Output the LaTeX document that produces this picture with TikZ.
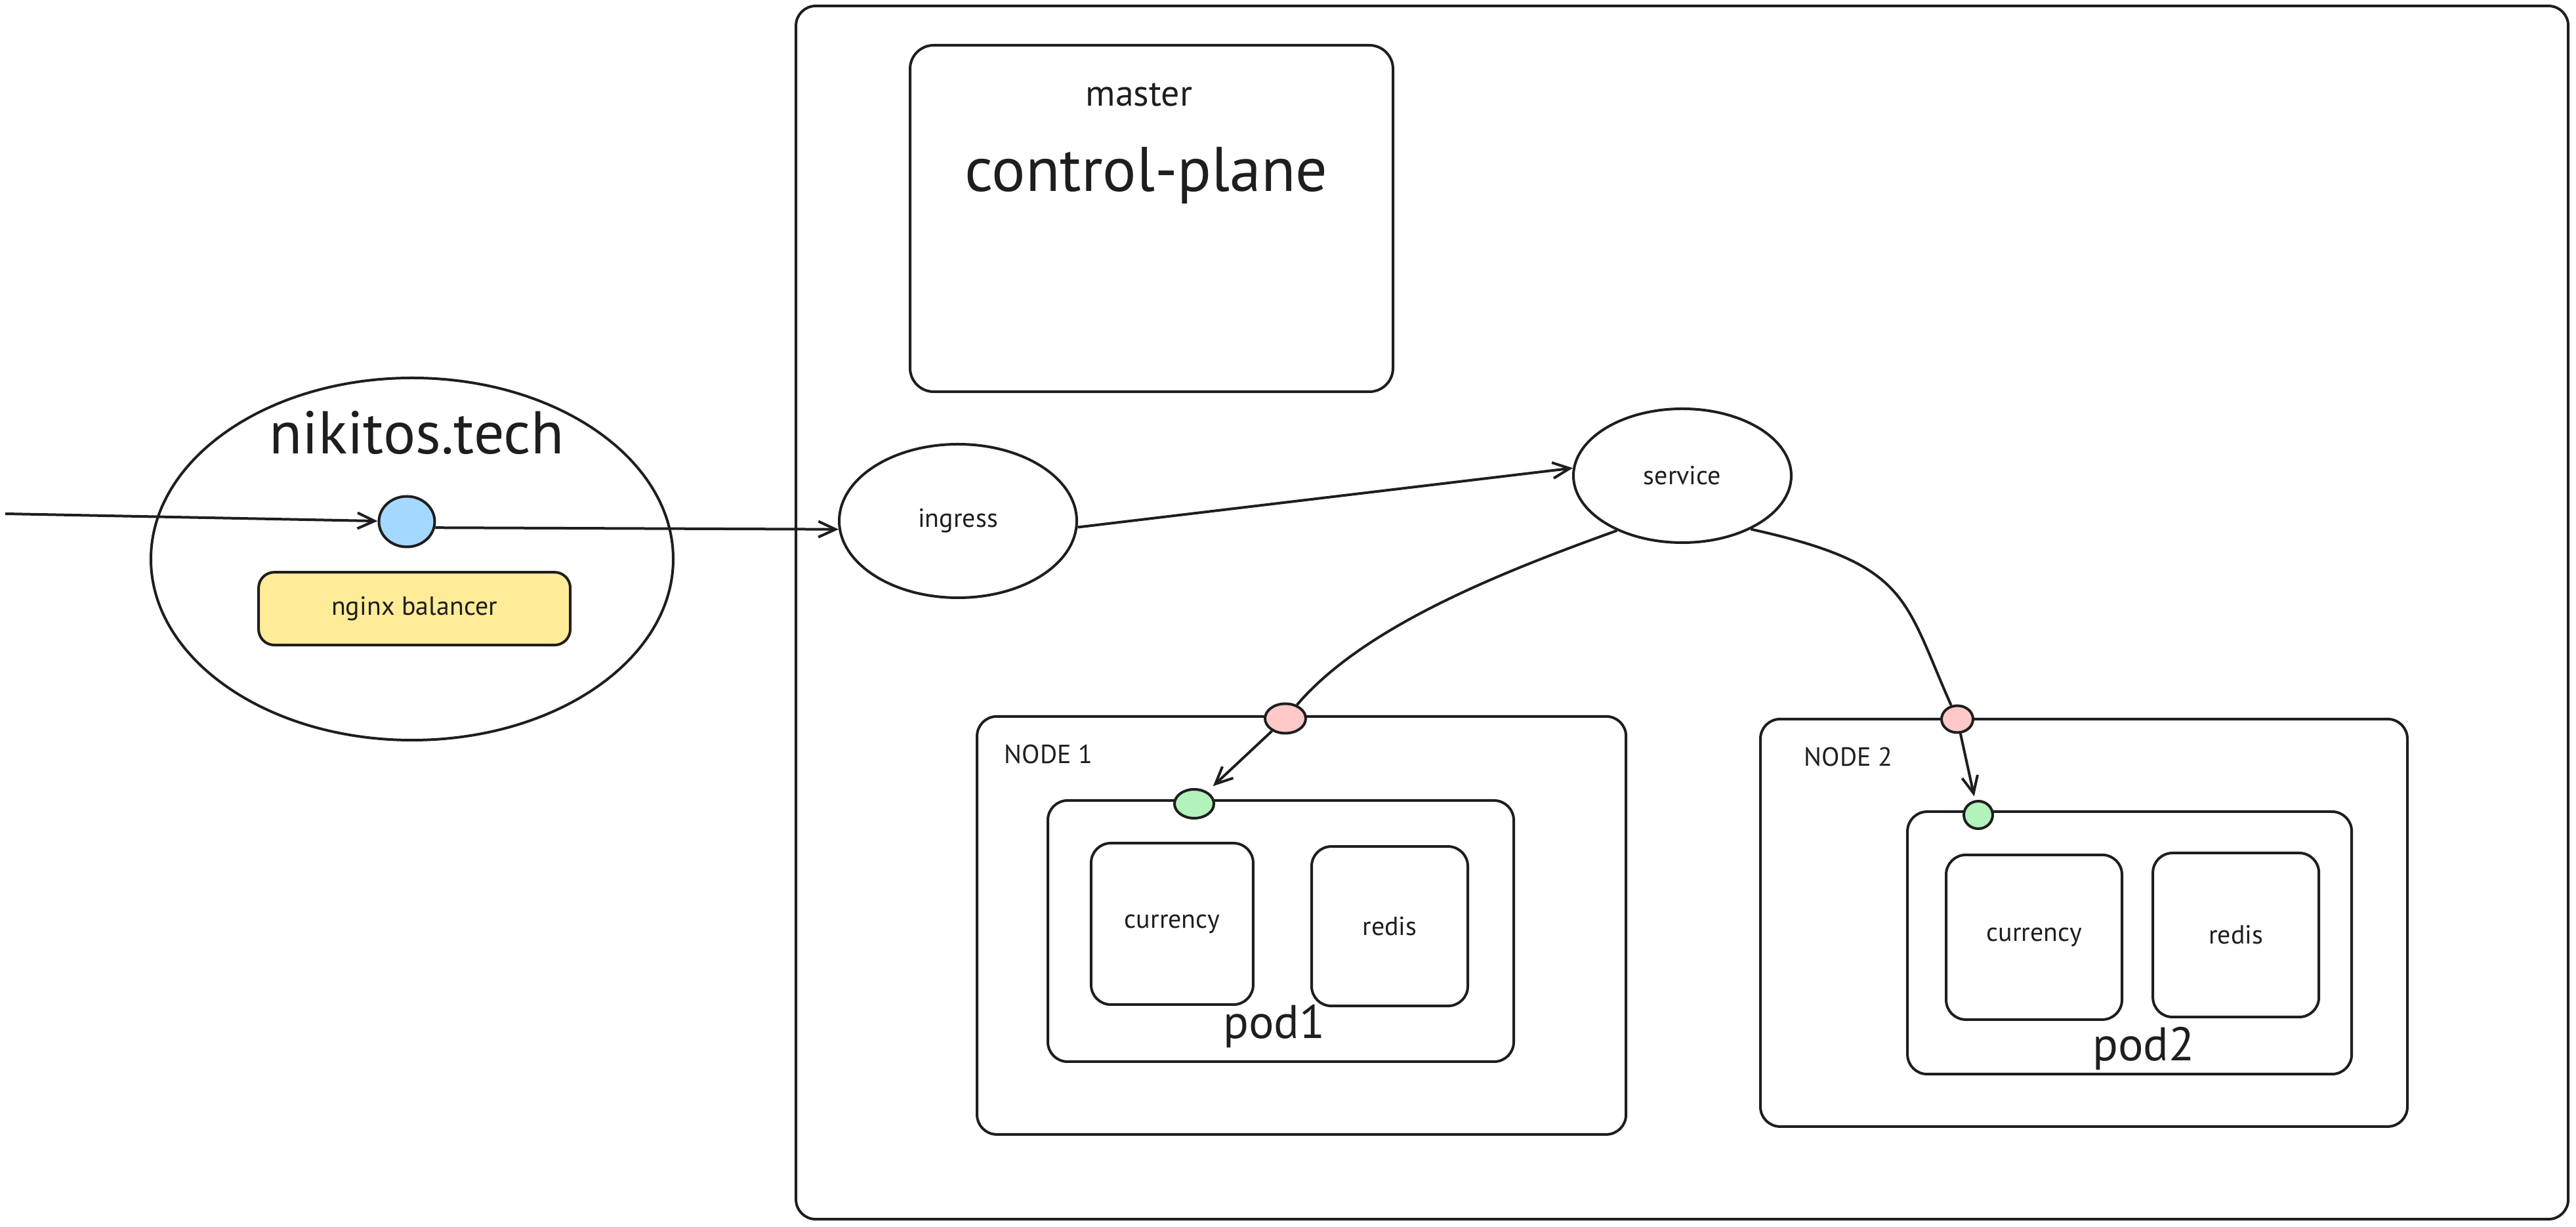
\documentclass[tikz,border=0pt]{standalone}
\usepackage{fontspec}
\setmainfont{PT Sans}
\usetikzlibrary{shapes.geometric,arrows.meta}
\definecolor{ink}{HTML}{1E1E1E}
\definecolor{ipblue}{HTML}{A5D8FF}
\definecolor{lbyellow}{HTML}{FFEC99}
\definecolor{eppink}{HTML}{FFC9C9}
\definecolor{portgreen}{HTML}{B2F2BB}
\begin{document}
\begin{tikzpicture}[>={Straight Barb[length=6.5bp,width=6bp]},line join=round,
  box/.style={draw=ink,line width=1bp,rounded corners=7.5bp,inner sep=0pt},
  oval/.style={ellipse,draw=ink,line width=1bp,inner sep=0pt},
  txt/.style={text=ink,inner sep=0pt,font=\fontsize{10bp}{12bp}\selectfont},
  link/.style={draw=ink,line width=1bp}]
\useasboundingbox (0bp,0bp) rectangle (981.5bp,467.5bp);
%%
\node (node_cluster) at (640.9bp,234.1bp) [box,minimum width=675.25bp,minimum height=462.25bp] {};
  \node (node_master) at (438.75bp,384.25bp) [box,rounded corners=9bp,minimum width=184bp,minimum height=132bp] {};
  \node (node_master_lbl) at (434bp,427bp) [txt,anchor=base,font=\fontsize{14bp}{16bp}\selectfont] {master};
  \node (node_master_title) at (436.75bp,394.5bp) [txt,anchor=base,font=\fontsize{24bp}{28bp}\selectfont] {control-plane};
%
\node (node_site) at (157bp,254.5bp) [oval,minimum width=199bp,minimum height=138bp] {};
  \node (node_site_lbl) at (158.7bp,294.5bp) [txt,anchor=base,font=\fontsize{23bp}{27bp}\selectfont] {nikitos.tech};
  \node (node_lb_ip) at (155bp,268.75bp) [oval,fill=ipblue,minimum width=21.25bp,minimum height=19.25bp] {};
  \node (node_nginx) at (157.9bp,235.6bp) [box,txt,fill=lbyellow,rounded corners=6bp,minimum width=118.75bp,minimum height=27.75bp] {nginx balancer};
  \coordinate (node_in) at (2bp,271.75bp);
%
\node (node_ingress) at (365bp,269bp) [oval,txt,minimum width=90.5bp,minimum height=58.5bp] {ingress};
  \node (node_service) at (641bp,286.25bp) [oval,txt,minimum width=83bp,minimum height=51bp] {service};
%
\node (node_node1) at (495.9bp,114.9bp) [box,minimum width=247.25bp,minimum height=159.25bp] {};
  \node (node_node1_lbl) at (382.5bp,180bp) [txt,anchor=west] {NODE 1};
  \node (node_pod1) at (488bp,112.75bp) [box,minimum width=177.5bp,minimum height=99.5bp] {};
  \node (node_currency1) at (446.6bp,115.5bp) [box,txt,minimum width=61.75bp,minimum height=61.5bp] {currency};
  \node (node_redis1) at (529.5bp,114.6bp) [box,txt,minimum width=59.5bp,minimum height=60.75bp] {redis};
  \node (node_pod1_lbl) at (485.5bp,71.75bp) [txt,anchor=base,font=\fontsize{18bp}{21bp}\selectfont] {pod1};
  \node (node_ep1) at (489.75bp,193.75bp) [oval,fill=eppink,minimum width=15.5bp,minimum height=11.25bp] {};
  \node (node_port1) at (455bp,161.25bp) [oval,fill=portgreen,minimum width=15bp,minimum height=11bp] {};
%
\node (node_node2) at (794bp,115.9bp) [box,minimum width=246.5bp,minimum height=155.25bp] {};
  \node (node_node2_lbl) at (687.25bp,179bp) [txt,anchor=west] {NODE 2};
  \node (node_pod2) at (811.4bp,108.25bp) [box,minimum width=169.25bp,minimum height=100bp] {};
  \node (node_currency2) at (775bp,110.4bp) [box,txt,minimum width=67bp,minimum height=62.75bp] {currency};
  \node (node_redis2) at (851.9bp,111.25bp) [box,txt,minimum width=63.25bp,minimum height=62.5bp] {redis};
  \node (node_pod2_lbl) at (816.75bp,63.25bp) [txt,anchor=base,font=\fontsize{18bp}{21bp}\selectfont] {pod2};
  \node (node_ep2) at (745.75bp,193.5bp) [oval,fill=eppink,minimum width=12bp,minimum height=10.25bp] {};
  \node (node_port2) at (753.75bp,157bp) [oval,fill=portgreen,minimum width=11bp,minimum height=10.5bp] {};
%
\draw [link,->] (node_in) -- (node_lb_ip);
  \draw [link,->] (node_lb_ip.-12) -- (node_ingress.184);
  \draw [link,->] (node_ingress.-3) -- (node_service.176);
  \draw [link] (node_service.220) .. controls (568.25bp,248.2bp) and (518.8bp,227.8bp) .. (node_ep1);
  \draw [link] (node_service.-38) .. controls (727.5bp,252.5bp) and (725.1bp,240bp) .. (node_ep2);
  \draw [link,->,shorten >=3bp] (node_ep1) -- (node_port1);
  \draw [link,->,shorten >=1.5bp] (node_ep2) -- (node_port2);
%
\end{tikzpicture}
\end{document}
